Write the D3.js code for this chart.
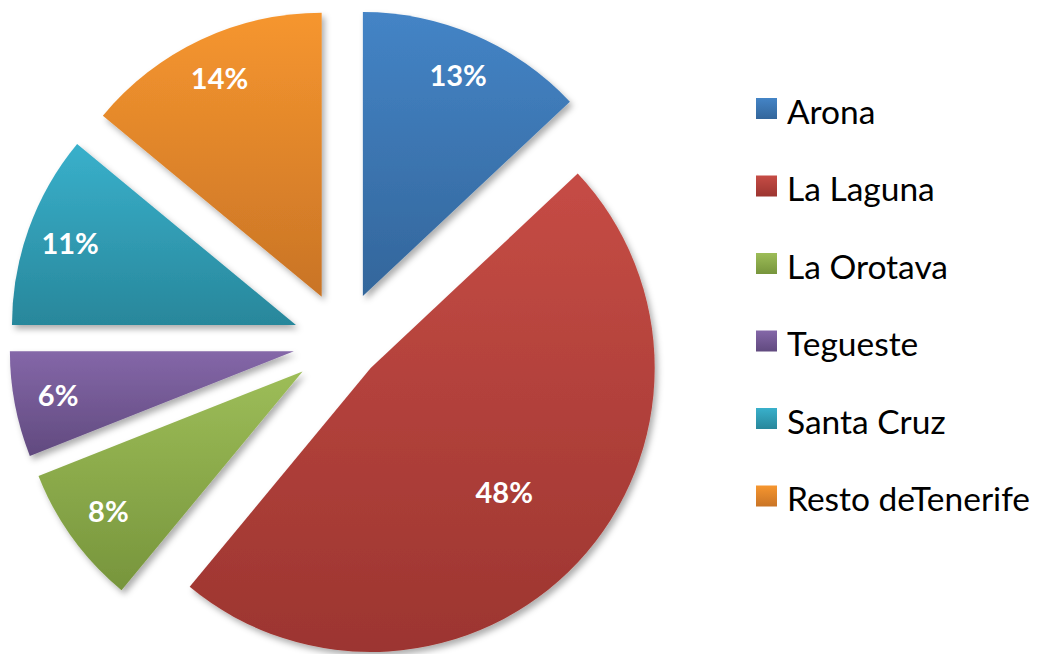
<!DOCTYPE html>
<html>
<head>
<meta charset="utf-8">
<script src="https://cdn.jsdelivr.net/npm/d3@7.9.0/dist/d3.min.js"></script>
<style>
  html, body { margin: 0; padding: 0; background: #fff; }
  svg { display: block; }
</style>
</head>
<body>
<svg id="chart" width="1048" height="654"></svg>
<script>
// ---------- Data ----------
const categories = ["Arona", "La Laguna", "La Orotava", "Tegueste", "Santa Cruz", "Resto deTenerife"];
const shares = [13, 48, 8, 6, 11, 14];
const labels = ["13%", "48%", "8%", "6%", "11%", "14%"];

// gradient stops per slice (top -> bottom)
const topColors = ["#4484c6", "#c64c45", "#9dbd58", "#8467a8", "#39b0cb", "#f6962f"];
const bottomColors = ["#33669b", "#9c3530", "#77953c", "#614a7f", "#28879b", "#c97426"];

// ---------- Layout ----------
const width = 1048, height = 654;
const cx = 343, cy = 342;
const radius = 284;

// explosion distance for each slice (Laguna sits a bit closer)
function explodeFor(i) {
  return i === 1 ? 38 : 50;
}

const svg = d3.select("#chart");
const defs = svg.append("defs");

// soft drop shadow like Excel
const shadow = defs.append("filter")
  .attr("id", "shadow")
  .attr("x", "-10%").attr("y", "-10%")
  .attr("width", "130%").attr("height", "130%");
shadow.append("feDropShadow")
  .attr("dx", 3).attr("dy", 4)
  .attr("stdDeviation", 3)
  .attr("flood-color", "#000")
  .attr("flood-opacity", 0.32);

categories.forEach((c, i) => {
  const g = defs.append("linearGradient")
    .attr("id", "grad" + i)
    .attr("x1", 0).attr("y1", 0)
    .attr("x2", 0).attr("y2", 1);
  g.append("stop").attr("offset", "0%").attr("stop-color", topColors[i]);
  g.append("stop").attr("offset", "100%").attr("stop-color", bottomColors[i]);
});

const pie = d3.pie().sort(null).value((d) => d.value);
const data = categories.map((c, i) => ({ name: c, value: shares[i], label: labels[i], i }));
const arcs = pie(data);

const arc = d3.arc().innerRadius(0).outerRadius(radius);

const pieG = svg.append("g").attr("transform", `translate(${cx},${cy})`);

const slices = pieG.selectAll("g.slice")
  .data(arcs)
  .join("g")
  .attr("class", "slice")
  .attr("transform", (d) => {
    const mid = (d.startAngle + d.endAngle) / 2;
    const e = explodeFor(d.index);
    return `translate(${Math.sin(mid) * e},${-Math.cos(mid) * e})`;
  });

slices.append("path")
  .attr("d", arc)
  .attr("fill", (d) => `url(#grad${d.index})`)
  .attr("filter", "url(#shadow)");

// labels: big slice nearer the middle, small ones towards the rim
slices.append("text")
  .attr("transform", (d) => {
    const mid = (d.startAngle + d.endAngle) / 2;
    const lr = d.data.value > 30 ? radius * 0.645 : radius * 0.845;
    return `translate(${Math.sin(mid) * lr},${-Math.cos(mid) * lr})`;
  })
  .attr("text-anchor", "middle")
  .attr("dy", "0.34em")
  .attr("fill", "#fff")
  .style("font-family", "Lato, 'Open Sans', sans-serif")
  .style("font-weight", "bold")
  .style("font-size", "29px")
  .text((d) => d.data.label);

// ---------- Legend ----------
const legendY = d3.scalePoint()
  .domain(categories)
  .range([108.5, 496])
  .padding(0);

const legend = svg.append("g")
  .selectAll("g")
  .data(categories)
  .join("g")
  .attr("transform", (d) => `translate(756,${legendY(d)})`);

legend.append("rect")
  .attr("x", 0).attr("y", -10.5)
  .attr("width", 21).attr("height", 21)
  .attr("fill", (d, i) => `url(#grad${i})`);

legend.append("text")
  .attr("x", 31)
  .attr("y", 3)
  .attr("dy", "0.36em")
  .attr("fill", "#000")
  .style("font-family", "Lato, 'Open Sans', sans-serif")
  .style("font-size", "33.5px")
  .text((d) => d);
</script>
</body>
</html>
